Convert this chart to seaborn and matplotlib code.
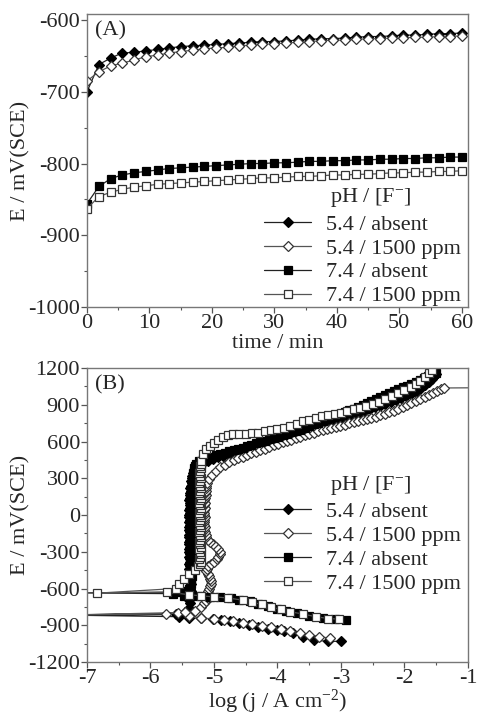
import numpy as np
import pandas as pd
import matplotlib
matplotlib.use("Agg")
import matplotlib.pyplot as plt
from matplotlib.ticker import MultipleLocator
import seaborn as sns

# ---- panel A: open circuit potential vs time
time_min = [0, 1.9, 3.8, 5.6, 7.5, 9.4, 11.3, 13.1, 15, 16.9, 18.8, 20.6, 22.5,
            24.4, 26.3, 28.1, 30, 31.9, 33.8, 35.6, 37.5, 39.4, 41.3, 43.1, 45,
            46.9, 48.8, 50.6, 52.5, 54.4, 56.3, 58.1, 60]
ocp_54_absent = [-700, -662, -653, -646, -645, -643, -641, -639, -637, -636, -635,
                 -634, -633, -632, -631, -630, -630, -629, -628, -627, -626, -626,
                 -625, -624, -623, -623, -622, -621, -621, -620, -619, -619, -618]
ocp_54_1500 = [-685, -672, -664, -660, -656, -651, -649, -646, -644, -642, -640,
               -639, -638, -636, -635, -634, -633, -632, -631, -630, -629, -628,
               -628, -627, -626, -626, -625, -625, -624, -624, -623, -623, -622]
ocp_74_absent = [-856, -832, -821, -816, -813, -811, -809, -807, -806, -805, -804,
                 -803, -802, -801, -800, -800, -799, -799, -798, -797, -797, -796,
                 -796, -795, -795, -794, -794, -793, -793, -792, -792, -791, -791]
ocp_74_1500 = [-863, -846, -840, -836, -833, -831, -829, -828, -827, -826, -825,
               -824, -823, -822, -821, -820, -820, -819, -818, -818, -817, -816,
               -816, -815, -815, -814, -813, -813, -812, -812, -811, -811, -810]

# ---- panel B: polarization curves, log j vs E (cathodic -> Ecorr -> passive -> transpassive)
logj_54_absent = [
    -3.00, -3.20, -3.42, -3.60, -3.76, -3.90, -4.00, -4.15, -4.31, -4.45, -4.60, -4.75,
    -4.89, -5.02, -5.20, -5.39, -5.55, -7.20, -5.60, -5.45, -5.40, -5.38, -5.40, -5.37,
    -5.36, -5.37, -5.38, -5.36, -5.38, -5.37, -5.39, -5.38, -5.37, -5.39, -5.38, -5.40,
    -5.38, -5.37, -5.39, -5.38, -5.40, -5.39, -5.38, -5.40, -5.39, -5.38, -5.39, -5.40,
    -5.38, -5.39, -5.40, -5.38, -5.39, -5.38, -5.40, -5.39, -5.38, -5.39, -5.38, -5.37,
    -5.38, -5.39, -5.37, -5.38, -5.37, -5.36, -5.37, -5.36, -5.35, -5.36, -5.35, -5.34,
    -5.33,
    -5.30, -5.25, -5.18, -5.10, -5.02, -4.94, -4.86, -4.78, -4.70, -4.62, -4.54, -4.46,
    -4.38, -4.30, -4.22, -4.14, -4.06, -3.98, -3.90, -3.82, -3.74, -3.66, -3.58, -3.50,
    -3.42, -3.34, -3.26, -3.18, -3.10, -3.02, -2.94, -2.86, -2.78, -2.70, -2.62, -2.54,
    -2.46, -2.38, -2.30, -2.22, -2.14, -2.06, -1.98, -1.90, -1.82, -1.75, -1.68, -1.62,
    -1.57, -1.53, -1.50]
E_54_absent = [
    -1032, -1030, -1024, -995, -965, -950, -942, -928, -914, -898, -882, -868,
    -855, -848, -843, -841, -830, -818, -812, -790, -760, -720, -690, -650,
    -620, -600, -580, -560, -540, -520, -500, -480, -460, -440, -420, -400,
    -380, -360, -340, -320, -300, -280, -260, -240, -220, -200, -180, -160,
    -140, -120, -100, -80, -60, -40, -20, 0, 20, 40, 60, 80,
    100, 120, 140, 160, 180, 200, 220, 240, 260, 280, 300, 320,
    340,
    370, 400, 425, 445, 460, 472, 482, 490, 497, 503, 512, 528,
    545, 565, 585, 603, 618, 632, 645, 657, 668, 679, 690, 700,
    710, 722, 735, 748, 760, 772, 784, 798, 812, 828, 845, 862,
    878, 893, 908, 923, 938, 953, 968, 985, 1005, 1030, 1058, 1085,
    1110, 1135, 1155]

logj_54_1500 = [
    -3.18, -3.35, -3.50, -3.65, -3.80, -3.95, -4.10, -4.25, -4.40, -4.55, -4.70, -4.85,
    -5.00, -5.20, -5.40, -5.57, -5.75, -7.20, -5.45, -5.30, -5.20, -5.15,
    -5.12, -5.10, -5.12, -5.10, -5.09, -5.08, -5.06, -5.05, -5.05, -5.07, -5.08, -5.10,
    -5.12, -5.11, -5.09, -5.05, -5.00, -4.96, -4.93, -4.91, -4.91, -4.93, -4.97, -5.02,
    -5.07, -5.10, -5.12, -5.13, -5.14, -5.15, -5.14, -5.15, -5.16, -5.15, -5.14, -5.15,
    -5.16, -5.15, -5.14, -5.15, -5.14, -5.15, -5.14, -5.13, -5.14, -5.13, -5.12, -5.12,
    -5.11,
    -5.08, -5.03, -4.97, -4.90, -4.83, -4.76, -4.69, -4.62, -4.55, -4.48, -4.41, -4.34,
    -4.27, -4.20, -4.13, -4.06, -3.99, -3.92, -3.85, -3.78, -3.71, -3.64, -3.57, -3.50,
    -3.43, -3.36, -3.29, -3.22, -3.15, -3.08, -3.01, -2.94, -2.87, -2.80, -2.73, -2.66,
    -2.59, -2.52, -2.45, -2.38, -2.31, -2.24, -2.17, -2.10, -2.03, -1.96, -1.89, -1.82,
    -1.75, -1.68, -1.61, -1.55, -1.49, -1.43, -1.38, -0.50]
E_54_1500 = [
    -1005, -992, -978, -962, -946, -932, -918, -904, -892, -880, -868, -857,
    -848, -841, -825, -800, -805, -815, -795, -780, -750, -720,
    -700, -680, -660, -640, -620, -600, -580, -560, -540, -520, -500, -480,
    -460, -440, -420, -400, -380, -360, -340, -320, -300, -280, -260, -240,
    -220, -200, -180, -160, -140, -120, -100, -80, -60, -40, -20, 0,
    20, 40, 60, 80, 100, 120, 140, 160, 180, 200, 220, 240,
    260,
    290, 325, 360, 390, 412, 430, 446, 462, 476, 490, 503, 515,
    527, 540, 555, 570, 583, 595, 603, 615, 628, 640, 652, 663,
    673, 683, 692, 702, 711, 719, 728, 738, 748, 758, 768, 777,
    786, 795, 804, 815, 827, 840, 853, 866, 881, 897, 913, 928,
    946, 965, 983, 998, 1013, 1026, 1037, 1040]

logj_74_absent = [
    -2.92, -3.10, -3.29, -3.50, -3.70, -3.86, -4.00, -4.15, -4.30, -4.44, -4.60, -4.73,
    -4.90, -5.07, -5.25, -5.40, -5.64, -7.20, -5.55, -5.48,
    -5.44, -5.40, -5.37, -5.36, -5.38, -5.36, -5.35, -5.37, -5.36, -5.34, -5.35, -5.36,
    -5.35, -5.34, -5.36, -5.35, -5.34, -5.35, -5.36, -5.35, -5.34, -5.35, -5.36, -5.35,
    -5.34, -5.35, -5.34, -5.36, -5.35, -5.34, -5.35, -5.34, -5.35, -5.36, -5.35, -5.34,
    -5.35, -5.34, -5.33, -5.34, -5.35, -5.34, -5.33, -5.34, -5.33, -5.34, -5.33, -5.32,
    -5.33, -5.32, -5.31, -5.30, -5.28,
    -5.24, -5.18, -5.11, -5.04, -4.97, -4.90, -4.83, -4.76, -4.69, -4.62, -4.55, -4.48,
    -4.41, -4.34, -4.27, -4.20, -4.13, -4.06, -3.99, -3.92, -3.85, -3.78, -3.71, -3.64,
    -3.57, -3.50, -3.43, -3.36, -3.29, -3.22, -3.15, -3.08, -3.01, -2.94, -2.87, -2.80,
    -2.73, -2.66, -2.59, -2.52, -2.45, -2.38, -2.31, -2.24, -2.17, -2.10, -2.03, -1.96,
    -1.89, -1.82, -1.75, -1.69, -1.63, -1.58, -1.54, -1.51]
E_74_absent = [
    -860, -850, -841, -822, -800, -787, -765, -746, -725, -705, -690, -678,
    -672, -669, -660, -655, -642, -636, -630, -660,
    -620, -600, -580, -560, -540, -520, -500, -480, -460, -440, -420, -400,
    -380, -360, -340, -320, -300, -280, -260, -240, -220, -200, -180, -160,
    -140, -120, -100, -80, -60, -40, -20, 0, 20, 40, 60, 80,
    100, 120, 140, 160, 180, 200, 220, 240, 260, 280, 300, 320,
    340, 360, 380, 400, 420,
    440, 455, 466, 476, 487, 498, 509, 519, 530, 540, 551, 562,
    573, 584, 595, 606, 617, 628, 639, 650, 662, 674, 686, 698,
    712, 727, 741, 755, 769, 783, 798, 812, 826, 841, 855, 869,
    883, 898, 912, 929, 945, 961, 977, 993, 1009, 1025, 1041, 1057,
    1073, 1089, 1105, 1119, 1132, 1143, 1152, 1160]

logj_74_1500 = [
    -3.03, -3.20, -3.40, -3.60, -3.80, -3.95, -4.10, -4.25, -4.40, -4.55, -4.78, -5.00,
    -5.20, -5.40, -5.74, -6.84, -5.60, -5.55, -5.48, -5.40, -5.30, -5.25,
    -5.22, -5.21, -5.23, -5.22, -5.20, -5.22, -5.23, -5.21, -5.22, -5.23, -5.22, -5.21,
    -5.22, -5.23, -5.22, -5.21, -5.22, -5.23, -5.22, -5.21, -5.22, -5.23, -5.22, -5.21,
    -5.22, -5.23, -5.22, -5.21, -5.22, -5.23, -5.22, -5.21, -5.22, -5.23, -5.22, -5.21,
    -5.22, -5.23, -5.22, -5.21, -5.22, -5.21, -5.20,
    -5.18, -5.12, -5.06, -5.00, -4.93, -4.86, -4.78, -4.70, -4.60, -4.50, -4.40, -4.30,
    -4.20, -4.10, -4.00, -3.90, -3.80, -3.70, -3.60, -3.50, -3.40, -3.30, -3.20, -3.10,
    -3.00, -2.90, -2.80, -2.70, -2.60, -2.50, -2.40, -2.30, -2.20, -2.10, -2.00, -1.90,
    -1.82, -1.75, -1.68, -1.62, -1.56]
E_74_1500 = [
    -850, -845, -830, -808, -790, -770, -752, -730, -712, -695, -677, -668,
    -660, -650, -629, -638, -600, -560, -520, -480, -450, -420,
    -400, -380, -360, -340, -320, -300, -280, -260, -240, -220, -200, -180,
    -160, -140, -120, -100, -80, -60, -40, -20, 0, 20, 40, 60,
    80, 100, 120, 140, 160, 180, 200, 220, 240, 260, 280, 300,
    320, 340, 360, 380, 400, 420, 440,
    500, 535, 565, 590, 615, 640, 652, 660, 662, 664, 667, 673,
    684, 695, 705, 714, 723, 745, 764, 778, 792, 805, 815, 825,
    835, 847, 862, 876, 890, 905, 925, 945, 970, 997, 1020, 1045,
    1070, 1095, 1130, 1160, 1186]

labels = ["5.4 / absent", "5.4 / 1500 ppm", "7.4 / absent", "7.4 / 1500 ppm"]

sns.set_style("ticks")
plt.rcParams["font.family"] = ["Liberation Serif", "DejaVu Serif"]
plt.rcParams["mathtext.fontset"] = "custom"
plt.rcParams["mathtext.rm"] = "Liberation Serif"
plt.rcParams["mathtext.it"] = "Liberation Serif:italic"
plt.rcParams["axes.unicode_minus"] = False
FS = 16

fig = plt.figure(figsize=(4.79, 7.15), dpi=100)
axA = fig.add_axes([0.1816, 0.5706, 0.7954, 0.4094])
axB = fig.add_axes([0.1816, 0.0741, 0.7954, 0.4112])

styles = [
    dict(marker="D", markerfacecolor="black", markeredgecolor="black", color="#222222"),
    dict(marker="D", markerfacecolor="white", markeredgecolor="#333333", color="#555555"),
    dict(marker="s", markerfacecolor="black", markeredgecolor="black", color="#222222"),
    dict(marker="s", markerfacecolor="white", markeredgecolor="#333333", color="#555555"),
]

ocp = [ocp_54_absent, ocp_54_1500, ocp_74_absent, ocp_74_1500]
for vals, lab, st in zip(ocp, labels, styles):
    df = pd.DataFrame({"t": time_min, "E": vals})
    ms = 5.2 if st["marker"] == "D" else 6
    sns.lineplot(data=df, x="t", y="E", ax=axA, estimator=None, sort=False,
                 label=lab, linewidth=0.9, markersize=ms, markeredgewidth=0.9, **st)

pol = [(logj_54_absent, E_54_absent), (logj_54_1500, E_54_1500),
       (logj_74_absent, E_74_absent), (logj_74_1500, E_74_1500)]
for (lj, ee), lab, st in zip(pol, labels, styles):
    df = pd.DataFrame({"logj": lj, "E": ee})
    ms = 5.0 if st["marker"] == "D" else 5.6
    sns.lineplot(data=df, x="logj", y="E", ax=axB, estimator=None, sort=False,
                 label=lab, linewidth=0.9, markersize=ms, markeredgewidth=0.9, **st)

axA.set_xlim(0, 61)
axA.set_ylim(-1000, -592)
axA.xaxis.set_major_locator(MultipleLocator(10))
axA.xaxis.set_minor_locator(MultipleLocator(5))
axA.yaxis.set_major_locator(MultipleLocator(100))
axA.yaxis.set_minor_locator(MultipleLocator(50))
axA.set_xlabel("time / min", fontsize=FS, labelpad=1)
axA.set_ylabel("E / mV(SCE)", fontsize=FS, labelpad=-2)

axB.set_xlim(-7, -1)
axB.set_ylim(-1200, 1200)
axB.xaxis.set_major_locator(MultipleLocator(1))
axB.xaxis.set_minor_locator(MultipleLocator(0.5))
axB.yaxis.set_major_locator(MultipleLocator(300))
axB.yaxis.set_minor_locator(MultipleLocator(150))
axB.set_xlabel("log (j / A cm$^{-2}$)", fontsize=FS, labelpad=0)
axB.set_ylabel("E / mV(SCE)", fontsize=FS, labelpad=-2)

# legend anchor (top of first entry) and title position in axes coords
for ax, tag, leg_top, title_y in [(axA, "(A)", 0.34, 0.375), (axB, "(B)", 0.569, 0.602)]:
    for sp in ax.spines.values():
        sp.set_color("#777777")
        sp.set_linewidth(1.0)
    ax.tick_params(which="major", direction="out", length=4, width=0.9,
                   labelsize=FS, color="#555555", pad=1)
    ax.tick_params(which="minor", direction="out", length=2.5, width=0.8, color="#555555")
    ax.text(0.02, 0.975, tag, transform=ax.transAxes, fontsize=FS, va="top", ha="left")
    ax.legend(loc="upper right", bbox_to_anchor=(1.0, leg_top), frameon=False,
              fontsize=FS, handlelength=2.1, handletextpad=0.7, labelspacing=0.15,
              borderaxespad=0.2, borderpad=0.1)
    ax.text(0.745, title_y, "pH / [F$^{-}$]", transform=ax.transAxes, fontsize=FS,
            ha="center", va="center")

fig.savefig("out.png", dpi=100)
